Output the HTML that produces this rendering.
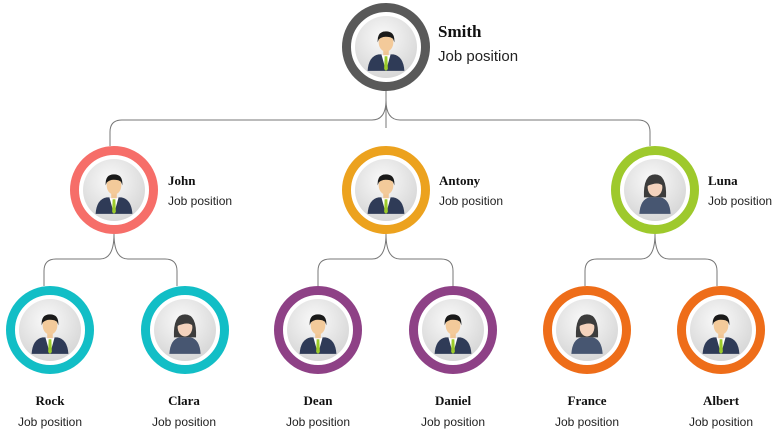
<!DOCTYPE html>
<html><head><meta charset="utf-8"><style>
html,body{margin:0;padding:0;background:#fff;width:778px;height:437px;overflow:hidden}
svg{display:block}
.n{font-family:"Liberation Serif",serif;font-weight:bold;fill:#111}
.j{font-family:"Liberation Sans",sans-serif;fill:#222}
</style></head><body>
<svg width="778" height="437" viewBox="0 0 778 437">
<defs>
<radialGradient id="g" cx="45%" cy="35%" r="70%"><stop offset="0" stop-color="#fafafa"/><stop offset="1" stop-color="#d4d4d4"/></radialGradient>
<g id="man" transform="scale(0.92)">
<path d="M-20 26 Q-19 10 -8 8 L8 8 Q19 10 20 26 Z" fill="#2f3b57"/>
<path d="M-5 8 L0 26 L5 8 Z" fill="#fff"/>
<path d="M-1.5 10 L1.5 10 L2 24 L0 26 L-2 24 Z" fill="#9ccb2a"/>
<rect x="-3" y="2" width="6" height="7" fill="#f0c594"/>
<ellipse cx="0" cy="-5" rx="8" ry="10" fill="#f3ca9a"/>
<path d="M-9 -5 Q-10 -17 0 -17 Q10 -17 9 -5 Q8 -11 2 -11 Q-4 -12 -8 -8 Z" fill="#1a1a1a"/>
</g>
<g id="woman" transform="scale(0.92)">
<path d="M-12 8 Q-13 -17 0 -17 Q13 -17 12 8 Z" fill="#3c3c3c"/>
<path d="M-17 26 Q-16 10 -6 8 L6 8 Q16 10 17 26 Z" fill="#475671"/>
<ellipse cx="0" cy="-3" rx="8" ry="10" fill="#f4d3bd"/>
<path d="M-9 -4 Q-8 -15 0 -14 Q8 -14 9 -4 Q4 -10 -9 -4 Z" fill="#3c3c3c"/>
</g>
</defs>
<g fill="none" stroke="#777" stroke-width="1">
<path d="M386 91 V128 M386 100 Q386 120 372 120 H122 Q110 120 110 132 V146 M386 100 Q386 120 400 120 H638 Q650 120 650 132 V146"/>
<path d="M114 234 Q114 259 100 259 H56 Q44 259 44 271 V286 M114 234 Q114 259 128 259 H165 Q177 259 177 271 V286"/>
<path d="M386 234 Q386 259 372 259 H330 Q318 259 318 271 V286 M386 234 Q386 259 400 259 H441 Q453 259 453 271 V286"/>
<path d="M655 234 Q655 259 641 259 H597 Q585 259 585 271 V286 M655 234 Q655 259 669 259 H705 Q717 259 717 271 V286"/>
</g>
<g>
<g transform="translate(386,47)"><circle r="39.5" fill="#fff" stroke="#595959" stroke-width="9"/><circle r="31" fill="url(#g)"/><use href="#man"/></g>
<g transform="translate(114,190)"><circle r="39.5" fill="#fff" stroke="#f66e69" stroke-width="9"/><circle r="31" fill="url(#g)"/><use href="#man"/></g>
<g transform="translate(386,190)"><circle r="39.5" fill="#fff" stroke="#eca21e" stroke-width="9"/><circle r="31" fill="url(#g)"/><use href="#man"/></g>
<g transform="translate(655,190)"><circle r="39.5" fill="#fff" stroke="#9ec92c" stroke-width="9"/><circle r="31" fill="url(#g)"/><use href="#woman"/></g>
<g transform="translate(50,330)"><circle r="39.5" fill="#fff" stroke="#12bec6" stroke-width="9"/><circle r="31" fill="url(#g)"/><use href="#man"/></g>
<g transform="translate(185,330)"><circle r="39.5" fill="#fff" stroke="#12bec6" stroke-width="9"/><circle r="31" fill="url(#g)"/><use href="#woman"/></g>
<g transform="translate(318,330)"><circle r="39.5" fill="#fff" stroke="#8e4186" stroke-width="9"/><circle r="31" fill="url(#g)"/><use href="#man"/></g>
<g transform="translate(453,330)"><circle r="39.5" fill="#fff" stroke="#8e4186" stroke-width="9"/><circle r="31" fill="url(#g)"/><use href="#man"/></g>
<g transform="translate(587,330)"><circle r="39.5" fill="#fff" stroke="#ee6d19" stroke-width="9"/><circle r="31" fill="url(#g)"/><use href="#woman"/></g>
<g transform="translate(721,330)"><circle r="39.5" fill="#fff" stroke="#ee6d19" stroke-width="9"/><circle r="31" fill="url(#g)"/><use href="#man"/></g>
</g>
<text class="n" x="438" y="37" font-size="17">Smith</text>
<text class="j" x="438" y="61" font-size="15">Job position</text>
<text class="n" x="168" y="185" font-size="13">John</text>
<text class="j" x="168" y="205" font-size="12">Job position</text>
<text class="n" x="439" y="185" font-size="13">Antony</text>
<text class="j" x="439" y="205" font-size="12">Job position</text>
<text class="n" x="708" y="185" font-size="13">Luna</text>
<text class="j" x="708" y="205" font-size="12">Job position</text>
<g text-anchor="middle">
<text class="n" x="50" y="405" font-size="13">Rock</text><text class="j" x="50" y="426" font-size="12">Job position</text>
<text class="n" x="184" y="405" font-size="13">Clara</text><text class="j" x="184" y="426" font-size="12">Job position</text>
<text class="n" x="318" y="405" font-size="13">Dean</text><text class="j" x="318" y="426" font-size="12">Job position</text>
<text class="n" x="453" y="405" font-size="13">Daniel</text><text class="j" x="453" y="426" font-size="12">Job position</text>
<text class="n" x="587" y="405" font-size="13">France</text><text class="j" x="587" y="426" font-size="12">Job position</text>
<text class="n" x="721" y="405" font-size="13">Albert</text><text class="j" x="721" y="426" font-size="12">Job position</text>
</g>
</svg>
</body></html>
